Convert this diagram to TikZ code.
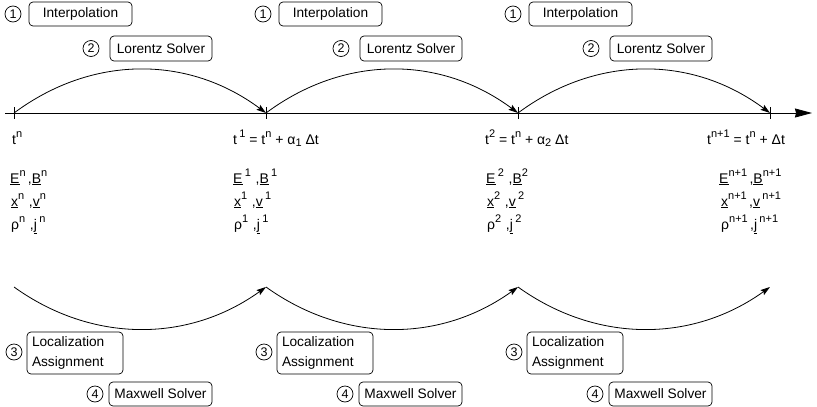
\documentclass[tikz,border=0pt]{standalone}
\usepackage{fontspec}
\setmainfont{Liberation Sans}
\usetikzlibrary{arrows.meta}
\newcommand{\sps}[1]{\raisebox{6.8pt}{\fontsize{11}{12}\selectfont #1}}
\newcommand{\sbs}[1]{\raisebox{-2.5pt}{\fontsize{11}{12}\selectfont #1}}
\begin{document}
\begin{tikzpicture}[x=1pt,y=-1pt,
  box/.style={draw,rounded corners=4pt,line width=0.7pt,minimum height=24pt,inner sep=0pt,font=\fontsize{13.7}{16}\selectfont},
  num/.style={draw,circle,line width=0.7pt,minimum size=16pt,inner sep=0pt,font=\fontsize{12.5}{14}\selectfont},
  lbl/.style={anchor=base west,inner sep=0pt,font=\fontsize{14}{16}\selectfont},
  arcarrow/.style={line width=0.8pt,-{Stealth[length=9.5pt,width=6pt,inset=1.5pt]}},
  tick/.style={line width=0.8pt}]
\useasboundingbox (0,0) rectangle (817,407);
% groups of boxes
\foreach \k/\dx in {0/0,1/250,2/500}{
  \node[num] (ci\k) at (13+\dx,14) {1};
  \node[box,minimum width=103pt] (bi\k) at (80.5+\dx,14) {Interpolation};
  \node[num] (cl\k) at (91+\dx,48.5) {2};
  \node[box,minimum width=102pt,minimum height=25pt] (bl\k) at (161+\dx,48.5) {Lorentz Solver};
  \node[num] (ca\k) at (14+\dx,352) {3};
  \node[box,minimum width=96pt,minimum height=42pt,text width=86pt,align=left,font=\fontsize{13.7}{19.5}\selectfont] (ba\k) at (75+\dx,353) {Localization\\Assignment};
  \node[num] (cm\k) at (95+\dx,394) {4};
  \node[box,minimum width=103pt] (bm\k) at (160.5+\dx,394) {Maxwell Solver};
}
% axis
\coordinate (a0) at (5,113);
\coordinate (a1) at (812,113);
\draw[line width=0.8pt,-{Stealth[length=17pt,width=9pt,inset=1pt]}] (a0) -- (a1);
\foreach \i/\x in {0/14,1/266,2/518,3/770}{
  \coordinate (t\i) at (\x,113);
  \coordinate (b\i) at (\x,287);
  \draw[tick] (t\i) ++(0,-6) -- ++(0,12);
}
% arcs
\draw[arcarrow] (t0) .. controls +(78,-58) and +(-78,-58) .. (t1);
\draw[arcarrow] (t1) .. controls +(78,-58) and +(-78,-58) .. (t2);
\draw[arcarrow] (t2) .. controls +(78,-58) and +(-78,-58) .. (t3);
\draw[arcarrow] (b0) .. controls +(78,56) and +(-78,56) .. (b1);
\draw[arcarrow] (b1) .. controls +(78,56) and +(-78,56) .. (b2);
\draw[arcarrow] (b2) .. controls +(78,56) and +(-78,56) .. (b3);
% labels column 1
\node[lbl] (tt0) at (12,144) {t\sps{n}};
\node[lbl] (eb0) at (10,183) {\underline{E}\sps{n}\,,\underline{B}\sps{n}};
\node[lbl] (xv0) at (11,206) {\underline{x}\sps{n}\,\,,\underline{v}\sps{n}};
\node[lbl] (rj0) at (11,229) {ρ\sps{n}\,\,,\underline{j}\,\sps{n}};
% column 2
\node[lbl] (tt1) at (233,144) {t\,\sps{1} = t\sps{n} + α\sbs{1} Δt};
\node[lbl] (eb1) at (233,183) {\underline{E}\,\sps{1}\,\,,\underline{B}\,\sps{1}};
\node[lbl] (xv1) at (234,206) {\underline{x}\sps{1}\,\,,\underline{v}\,\sps{1}};
\node[lbl] (rj1) at (234,229) {ρ\sps{1}\,\,,\underline{j}\,\sps{1}};
% column 3
\node[lbl] (tt2) at (485,144) {t\sps{2} = t\sps{n} + α\sbs{2} Δt};
\node[lbl] (eb2) at (486,183) {\underline{E}\,\sps{2}\,\,,\underline{B}\sps{2}};
\node[lbl] (xv2) at (487,206) {\underline{x}\sps{2}\,\,,\underline{v}\,\sps{2}};
\node[lbl] (rj2) at (487,229) {ρ\sps{2}\,\,,\underline{j}\,\sps{2}};
% column 4
\node[lbl] (tt3) at (707,144) {t\sps{n+1} =\ t\sps{n} + Δt};
\node[lbl] (eb3) at (719,183) {\underline{E}\sps{n+1}\,,\underline{B}\sps{n+1}};
\node[lbl] (xv3) at (721,206) {\underline{x}\sps{n+1}\,,\underline{v}\,\sps{n+1}};
\node[lbl] (rj3) at (721,229) {ρ\sps{n+1}\,,\underline{j}\,\sps{n+1}};
\end{tikzpicture}
\end{document}
